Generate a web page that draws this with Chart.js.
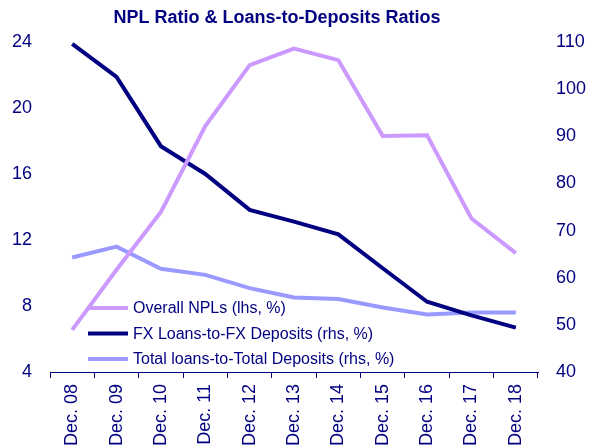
<!DOCTYPE html>
<html>
<head>
<meta charset="utf-8">
<script src="https://cdn.jsdelivr.net/npm/chart.js@4"></script>
<style>
  html, body { margin: 0; padding: 0; background: #ffffff; }
  #wrap { width: 589px; height: 447px; position: relative; }
</style>
</head>
<body>
<div id="wrap"><canvas id="c" width="589" height="447"></canvas></div>
<script>
const categories = ["Dec. 08", "Dec. 09", "Dec. 10", "Dec. 11", "Dec. 12", "Dec. 13", "Dec. 14", "Dec. 15", "Dec. 16", "Dec. 17", "Dec. 18"];
const overallNPLs = [6.55, 10.2, 13.7, 18.9, 22.6, 23.6, 22.9, 18.3, 18.35, 13.3, 11.2];
const fxLoansToFxDeposits = [109.6, 102.6, 87.9, 82.0, 74.4, 71.9, 69.2, 62.0, 54.9, 52.0, 49.4];
const totalLoansToDeposits = [64.3, 66.6, 61.9, 60.6, 57.8, 55.8, 55.5, 53.7, 52.2, 52.6, 52.6];
const leftTicks = [4, 8, 12, 16, 20, 24];
const rightTicks = [40, 50, 60, 70, 80, 90, 100, 110];
const titleText = "NPL Ratio & Loans-to-Deposits Ratios";
const seriesLabels = ["Overall NPLs (lhs, %)", "FX Loans-to-FX Deposits (rhs, %)", "Total loans-to-Total Deposits (rhs, %)"];

const NAVY = "#000080";
const FONT = "'Liberation Sans', Arial, sans-serif";

const titlePlugin = {
  id: "customTitle",
  afterDraw(chart) {
    const ctx = chart.ctx;
    ctx.save();
    ctx.font = "bold 18px " + FONT;
    ctx.fillStyle = NAVY;
    ctx.textAlign = "center";
    ctx.textBaseline = "middle";
    ctx.fillText(titleText, 277, 18);
    ctx.restore();
  }
};

const legendPlugin = {
  id: "insideLegend",
  afterDatasetsDraw(chart) {
    const ctx = chart.ctx;
    ctx.save();
    const rows = [308, 333.5, 359];
    chart.data.datasets.forEach((ds, i) => {
      const y = rows[i];
      ctx.strokeStyle = ds.borderColor;
      ctx.lineWidth = 4;
      ctx.lineCap = "butt";
      ctx.beginPath();
      ctx.moveTo(88, y);
      ctx.lineTo(128, y);
      ctx.stroke();
      ctx.font = "16px " + FONT;
      ctx.fillStyle = NAVY;
      ctx.textAlign = "left";
      ctx.textBaseline = "middle";
      ctx.fillText(ds.label, 133, y + 1);
    });
    ctx.restore();
  }
};

new Chart(document.getElementById("c"), {
  type: "line",
  data: {
    labels: categories,
    datasets: [
      { label: seriesLabels[0], data: overallNPLs, yAxisID: "yL", borderColor: "#CC99FF", borderWidth: 4, pointRadius: 0, tension: 0, fill: false },
      { label: seriesLabels[1], data: fxLoansToFxDeposits, yAxisID: "yR", borderColor: "#000080", borderWidth: 4, pointRadius: 0, tension: 0, fill: false },
      { label: seriesLabels[2], data: totalLoansToDeposits, yAxisID: "yR", borderColor: "#9999FF", borderWidth: 4, pointRadius: 0, tension: 0, fill: false }
    ]
  },
  options: {
    responsive: false,
    animation: false,
    devicePixelRatio: 1,
    layout: { padding: { top: 42, left: 0, right: 0, bottom: 0 } },
    plugins: { legend: { display: false }, title: { display: false }, tooltip: { enabled: false } },
    scales: {
      x: {
        offset: true,
        border: { display: true, color: NAVY, width: 1 },
        grid: { display: true, offset: true, drawOnChartArea: false, drawTicks: true, tickLength: 6, color: NAVY, lineWidth: 1 },
        ticks: { color: NAVY, font: { family: FONT, size: 18 }, minRotation: 90, maxRotation: 90, padding: 6, autoSkip: false },
        afterFit(s) { s.height = 75; }
      },
      yL: {
        position: "left",
        min: 4, max: 24,
        border: { display: false },
        grid: { display: false, drawTicks: false },
        afterBuildTicks(s) { s.ticks = leftTicks.map(v => ({ value: v })); },
        ticks: { color: NAVY, font: { family: FONT, size: 18 }, padding: 18 },
        afterFit(s) { s.width = 50; }
      },
      yR: {
        position: "right",
        min: 40, max: 110,
        border: { display: false },
        grid: { display: false, drawTicks: false },
        afterBuildTicks(s) { s.ticks = rightTicks.map(v => ({ value: v })); },
        ticks: { color: NAVY, font: { family: FONT, size: 18 }, padding: 18 },
        afterFit(s) { s.width = 51; }
      }
    }
  },
  plugins: [titlePlugin, legendPlugin]
});
</script>
</body>
</html>
